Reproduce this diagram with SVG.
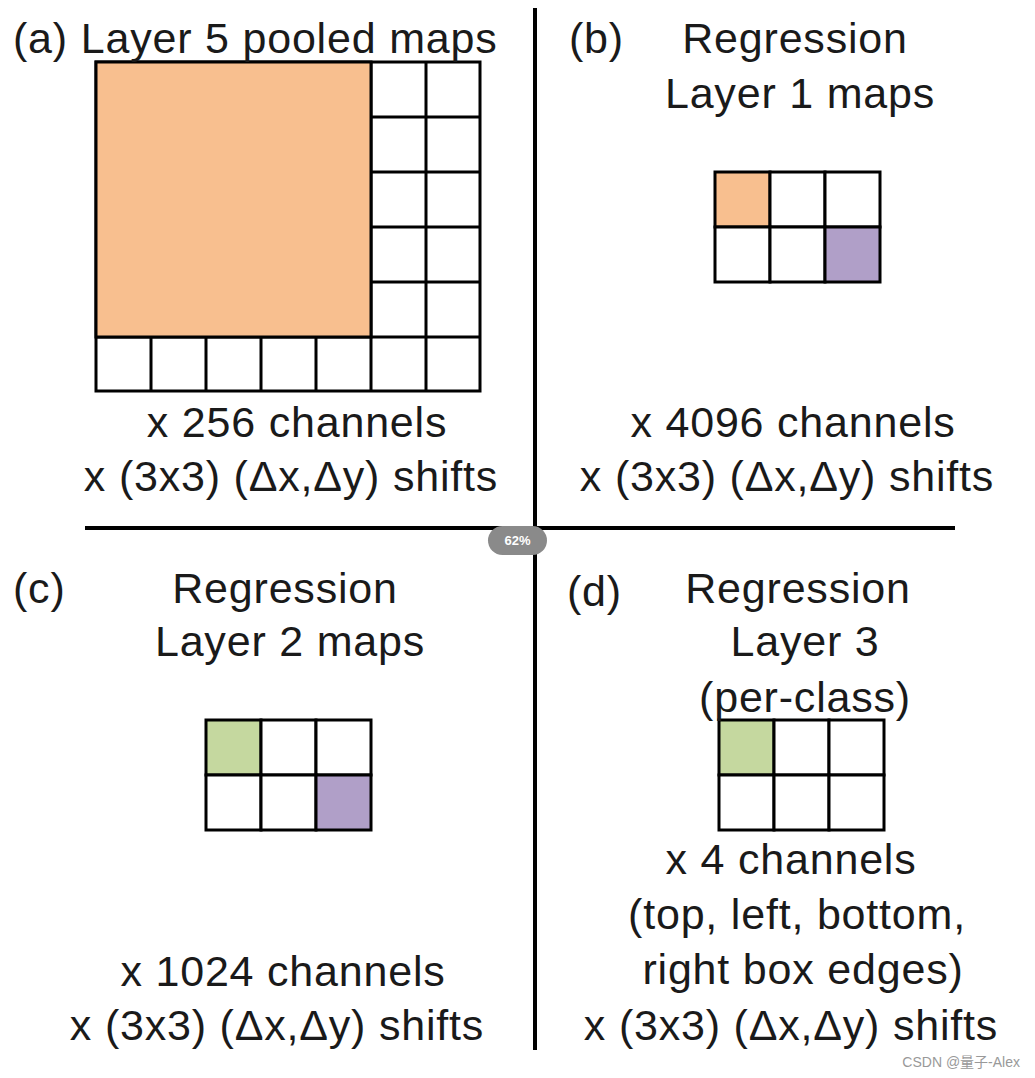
<svg xmlns="http://www.w3.org/2000/svg" width="1035" height="1078" viewBox="0 0 1035 1078">
<style>
text{font-family:"Liberation Sans",Arial,sans-serif;font-size:43px;letter-spacing:0.8px;fill:#1a1a1a}
.c{text-anchor:middle}
.cell{fill:#fff;stroke:#000;stroke-width:3}
.or{fill:#F8BF8F}.pu{fill:#B09FC8}.gr{fill:#C5D89F}
.ln{stroke:#000;stroke-width:4}
</style>
<rect width="1035" height="1078" fill="#fff"/>
<g id="connectors">
<line class="ln" x1="535" y1="8" x2="535" y2="1050"/>
<line class="ln" x1="85" y1="528" x2="955" y2="528"/>
</g>
<g id="panel-a">
<path fill="none" stroke="#000" stroke-width="3" d="M96 62H480V391H96Z M371 117H480 M371 172H480 M371 227H480 M371 282H480 M96 337H480 M426 62V391 M371 62V391 M151 337V391 M206 337V391 M261 337V391 M316 337V391"/>
<rect class="or" x="96" y="62" width="275" height="275" stroke="#000" stroke-width="3"/>
<text x="13" y="53">(a) Layer 5 pooled maps</text>
<text class="c" x="297" y="437">x 256 channels</text>
<text class="c" x="291" y="491">x (3x3) (Δx,Δy) shifts</text>
</g>
<g id="panel-b">
<rect class="cell or" x="715" y="172" width="55" height="55"/><rect class="cell" x="770" y="172" width="55" height="55"/><rect class="cell" x="825" y="172" width="55" height="55"/>
<rect class="cell" x="715" y="227" width="55" height="55"/><rect class="cell" x="770" y="227" width="55" height="55"/><rect class="cell pu" x="825" y="227" width="55" height="55"/>
<text x="569" y="53">(b)</text>
<text class="c" x="795" y="53">Regression</text>
<text class="c" x="800" y="108">Layer 1 maps</text>
<text class="c" x="793" y="437">x 4096 channels</text>
<text class="c" x="787" y="491">x (3x3) (Δx,Δy) shifts</text>
</g>
<g id="panel-c">
<rect class="cell gr" x="206" y="720" width="55" height="55"/><rect class="cell" x="261" y="720" width="55" height="55"/><rect class="cell" x="316" y="720" width="55" height="55"/>
<rect class="cell" x="206" y="775" width="55" height="55"/><rect class="cell" x="261" y="775" width="55" height="55"/><rect class="cell pu" x="316" y="775" width="55" height="55"/>
<text x="13" y="603">(c)</text>
<text class="c" x="285" y="603">Regression</text>
<text class="c" x="290" y="656">Layer 2 maps</text>
<text class="c" x="283" y="986">x 1024 channels</text>
<text class="c" x="277" y="1040">x (3x3) (Δx,Δy) shifts</text>
</g>
<g id="panel-d">
<rect class="cell gr" x="719" y="720" width="55" height="55"/><rect class="cell" x="774" y="720" width="55" height="55"/><rect class="cell" x="829" y="720" width="55" height="55"/>
<rect class="cell" x="719" y="775" width="55" height="55"/><rect class="cell" x="774" y="775" width="55" height="55"/><rect class="cell" x="829" y="775" width="55" height="55"/>
<text x="567" y="606">(d)</text>
<text class="c" x="798" y="603">Regression</text>
<text class="c" x="805" y="656">Layer 3</text>
<text class="c" x="805" y="712">(per-class)</text>
<text class="c" x="791" y="874">x 4 channels</text>
<text class="c" x="797" y="929">(top, left, bottom,</text>
<text class="c" x="803" y="984">right box edges)</text>
<text class="c" x="791" y="1040">x (3x3) (Δx,Δy) shifts</text>
</g>
<g id="overlay">
<rect x="488" y="526" width="59" height="29" rx="14.5" fill="#8a8a8a"/>
<text x="517.5" y="545" class="c" style="font-size:13px;letter-spacing:0;fill:#fff;font-weight:bold">62%</text>
<text x="1020" y="1067" style="font-size:14px;letter-spacing:0;fill:#999;text-anchor:end;font-family:'Liberation Sans','Noto Sans CJK SC',sans-serif">CSDN @量子-Alex</text>
</g>
</svg>
